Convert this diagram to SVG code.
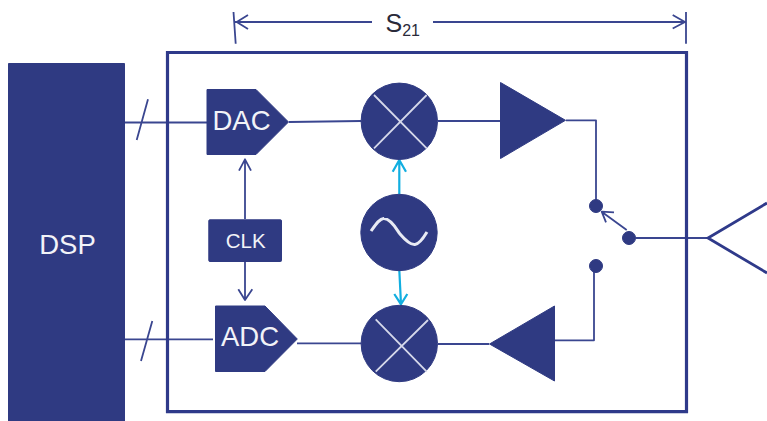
<svg xmlns="http://www.w3.org/2000/svg" width="767" height="421" viewBox="0 0 767 421">
<style>
.f{fill:#2f3a82;stroke:#2f3a82;stroke-width:1;stroke-linejoin:round}
.l{fill:none;stroke:#3a4690;stroke-width:1.8;stroke-linejoin:round}
.c{fill:none;stroke:#12aee0;stroke-width:2.200;stroke-linejoin:round}
.w{fill:none;stroke:#d5d8ea;stroke-width:1.800}
.t{fill:#f2f3f8;font-family:"Liberation Sans",Arial,sans-serif;text-anchor:middle}
</style>
<rect width="767" height="421" fill="#fff"/>
<g id="connectors">
<path class="l" d="M125 122.500H207M125 339.300H213M148 99.300L136.700 140M152.300 321L141 361"/>
<path class="l" d="M289 122L361 121M438 121H500M566 120.300H596V206M555 340.300H594V266M297 343.300H361M438 344H489"/>
<path class="l" d="M245 219V160M239 170.700L245 159.300L251 170.700M245 262V299M238.300 289.300L245 300L252.300 289.300"/>
<path class="c" d="M399.300 194V161M392.700 171.700L399.300 160L406 171.700M399.300 270L401 304M394.300 294L401 304.300L407.300 294"/>
<path class="l" d="M626.700 230L602 212M614 212.300L601.700 211.700L606 222.300"/>
<path class="l" d="M636 238H707"/>
<path class="l" d="M235 22H372M433 22H685M248 15L236.700 22L248 29M672.700 15L685 22L672.700 28.500M233.500 12L235.700 43.700M686 12V43.700"/>
<path fill="none" stroke="#2f3a8a" stroke-width="2.800" d="M767 203L708 238L767 273"/>
</g>
<g id="frame"><path fill="none" stroke="#2f3a8a" stroke-width="3.200" d="M167.500 52.500H686.500V411.700H167.500Z"/></g>
<g id="dsp"><rect class="f" x="8.500" y="63.500" width="116" height="358"/><text class="t" x="67.500" y="254" font-size="27.500">DSP</text></g>
<g id="dac"><path class="f" d="M207 89.500H256L288.500 122L256 154.500H207Z"/><text class="t" x="241.500" y="129.800" font-size="27.500">DAC</text></g>
<g id="adc"><path class="f" d="M215.500 306H265L297.300 339L265 371.500H215.500Z"/><text class="t" x="250" y="346" font-size="27.500">ADC</text></g>
<g id="clk"><rect class="f" x="208.800" y="219.800" width="72.700" height="41.700" rx="1"/><text class="t" x="245.700" y="247.700" font-size="20.500">CLK</text></g>
<g id="mixer-top"><circle class="f" cx="399.300" cy="121.300" r="38.200"/><path class="w" d="M374 95L426.700 148.300M426.700 95L374 148.300"/></g>
<g id="oscillator"><circle class="f" cx="399" cy="232.500" r="38.200"/><path fill="none" stroke="#e8eaf4" stroke-width="3" d="M371 231C376 224 380 218 384 218.500C392 219 398 232 400 234C406 241 411 245 415 244.500C420 244 424 237 427 232"/></g>
<g id="mixer-bottom"><circle class="f" cx="399.300" cy="343.500" r="38.200"/><path class="w" d="M375.700 319.300L426.700 371.700M428 320L375.700 371.700"/></g>
<g id="amp-tx"><path class="f" d="M500.500 82.500L565.500 120.300L500.500 158.500Z"/></g>
<g id="amp-rx"><path class="f" d="M554.500 306L489.500 344L554.500 381Z"/></g>
<g id="switch"><circle class="f" cx="596" cy="206" r="6.500"/><circle class="f" cx="629" cy="238" r="6.500"/><circle class="f" cx="596" cy="266" r="6.500"/></g>
<g id="s21"><text x="385.500" y="31.500" font-family="Liberation Sans,Arial,sans-serif" font-size="25" fill="#2a2a3a">S<tspan font-size="16" dy="4">21</tspan></text></g>
</svg>
